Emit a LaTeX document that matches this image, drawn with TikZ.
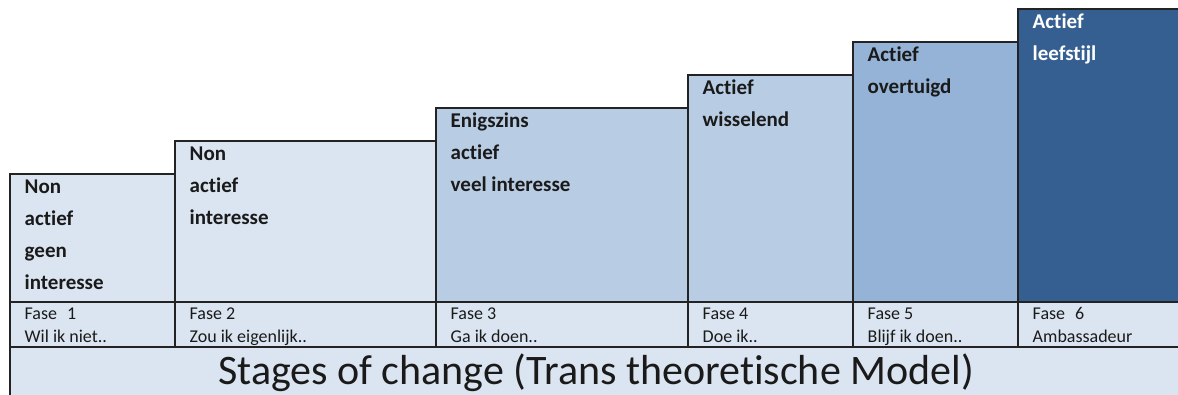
\documentclass[tikz,border=0pt]{standalone}
\usepackage{fontspec}
\setmainfont{Carlito}[Ligatures=NoCommon]
\usetikzlibrary{calc}
\definecolor{pale}{HTML}{DBE5F1}
\definecolor{midb}{HTML}{B8CCE4}
\definecolor{deepb}{HTML}{95B3D7}
\definecolor{darkb}{HTML}{365F91}
\definecolor{edge}{HTML}{232323}
\definecolor{txt}{HTML}{1A1A1A}
\tikzset{
  stagebox/.style={draw=edge, line width=1.3pt, anchor=north west, inner sep=0pt, outer sep=0pt, minimum height=#1},
  boxtext/.style={anchor=north west, inner sep=0pt, align=left, text=txt, font=\fontsize{21}{32}\selectfont\bfseries},
  fasetext/.style={anchor=north west, inner sep=0pt, align=left, text=txt, font=\fontsize{18}{23}\selectfont},
}
\newcommand{\topstrut}{\rule{0pt}{17pt}}
\newcommand{\fstrut}{\rule{0pt}{14pt}}
\begin{document}
\begin{tikzpicture}[x=1pt,y=-1pt]
\useasboundingbox (0,0) rectangle (1178,394);
\clip (0,0) rectangle (1178,394);
\fill[white] (0,0) rectangle (1178,394);
% stage boxes
\node[stagebox=128, minimum width=165, fill=pale] (b1) at (10,174) {};
\node[stagebox=161, minimum width=261, fill=pale] (b2) at (175,141) {};
\node[stagebox=194, minimum width=252, fill=midb] (b3) at (436,108) {};
\node[stagebox=227, minimum width=165, fill=midb] (b4) at (688,75) {};
\node[stagebox=260, minimum width=165, fill=deepb] (b5) at (853,42) {};
\node[stagebox=293, minimum width=190, fill=darkb] (b6) at (1018,9) {};
% fase cells
\node[stagebox=45, minimum width=165, fill=pale] (f1) at (10,302) {};
\node[stagebox=45, minimum width=261, fill=pale] (f2) at (175,302) {};
\node[stagebox=45, minimum width=252, fill=pale] (f3) at (436,302) {};
\node[stagebox=45, minimum width=165, fill=pale] (f4) at (688,302) {};
\node[stagebox=45, minimum width=165, fill=pale] (f5) at (853,302) {};
\node[stagebox=45, minimum width=190, fill=pale] (f6) at (1018,302) {};
% title bar
\node[stagebox=70, minimum width=1200, fill=pale] (tb) at (10,347) {};
\node[anchor=base, inner sep=0pt, text=txt, font=\fontsize{42}{44}\selectfont] (title) at (596,384) {Stages of change (Trans theoretische Model)};
% box texts
\node[boxtext] (t1) at ($(b1.north west)+(14.5,2)$) {\topstrut Non\\actief\\geen\\interesse};
\node[boxtext] (t2) at ($(b2.north west)+(14.5,2)$) {\topstrut Non\\actief\\interesse};
\node[boxtext] (t3) at ($(b3.north west)+(14.5,2)$) {\topstrut Enigszins\\actief\\veel interesse};
\node[boxtext] (t4) at ($(b4.north west)+(14.5,2)$) {\topstrut Actief\\wisselend};
\node[boxtext] (t5) at ($(b5.north west)+(14.5,2)$) {\topstrut Actief\\overtuigd};
\node[boxtext, text=white] (t6) at ($(b6.north west)+(14.5,2)$) {\topstrut Actief\\leefstijl};
% fase texts
\node[fasetext] (ft1) at ($(f1.north west)+(14.5,3)$) {\fstrut Fase\hspace{0.55em}1\\Wil ik niet..};
\node[fasetext] (ft2) at ($(f2.north west)+(14.5,3)$) {\fstrut Fase 2\\Zou ik eigenlijk..};
\node[fasetext] (ft3) at ($(f3.north west)+(14.5,3)$) {\fstrut Fase 3\\Ga ik doen..};
\node[fasetext] (ft4) at ($(f4.north west)+(14.5,3)$) {\fstrut Fase 4\\Doe ik..};
\node[fasetext] (ft5) at ($(f5.north west)+(14.5,3)$) {\fstrut Fase 5\\Blijf ik doen..};
\node[fasetext] (ft6) at ($(f6.north west)+(14.5,3)$) {\fstrut Fase\hspace{0.55em}6\\Ambassadeur};
\end{tikzpicture}
\end{document}
